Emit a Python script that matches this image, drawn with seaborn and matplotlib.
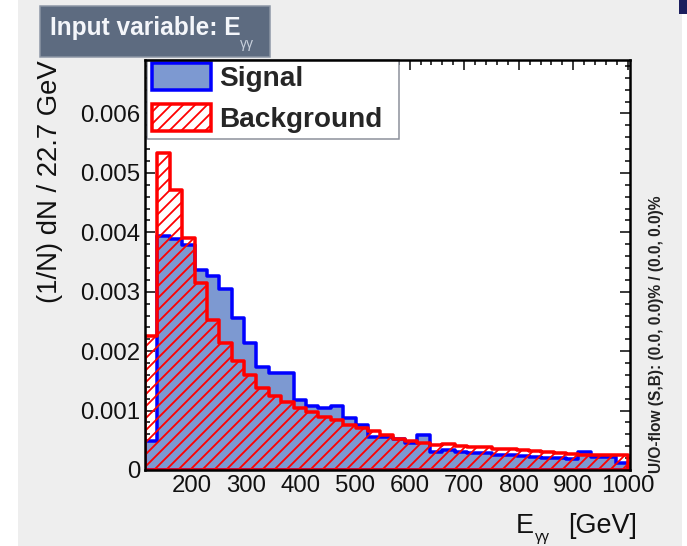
import numpy as np
import pandas as pd
import matplotlib
matplotlib.use("Agg")
import matplotlib.pyplot as plt
import seaborn as sns
from matplotlib.patches import Patch, Rectangle
from matplotlib.ticker import MultipleLocator

# ---------------- data ----------------
x_low = 115.0
bin_width = 22.7
signal = [0.00048, 0.00393, 0.00388, 0.00378, 0.00336, 0.00326, 0.00304, 0.00256,
          0.00214, 0.00174, 0.00164, 0.00164, 0.00118, 0.00108, 0.00104, 0.00108,
          0.00087, 0.00076, 0.00056, 0.00056, 0.00052, 0.00046, 0.00059, 0.00031,
          0.00034, 0.00031, 0.00029, 0.00028, 0.00026, 0.00025, 0.00024, 0.00022,
          0.00020, 0.00020, 0.00018, 0.00030, 0.00022, 0.00022, 0.00012]
background = [0.00225, 0.00534, 0.00471, 0.00391, 0.00315, 0.00253, 0.00214, 0.00183,
              0.00160, 0.00138, 0.00124, 0.00115, 0.00104, 0.00098, 0.00090, 0.00084,
              0.00076, 0.00070, 0.00065, 0.00059, 0.00052, 0.00048, 0.00045, 0.00042,
              0.00043, 0.00041, 0.00039, 0.00038, 0.00036, 0.00035, 0.00034, 0.00032,
              0.00030, 0.00029, 0.00027, 0.00026, 0.00026, 0.00025, 0.00025]
x_ticks = [200, 300, 400, 500, 600, 700, 800, 900, 1000]
y_ticks = [0, 0.001, 0.002, 0.003, 0.004, 0.005, 0.006]
y_tick_labels = ["0", "0.001", "0.002", "0.003", "0.004", "0.005", "0.006"]
legend_labels = ["Signal", "Background"]

n_bins = len(signal)
edges = [x_low + bin_width * i for i in range(n_bins + 1)]
centers = [0.5 * (edges[i] + edges[i + 1]) for i in range(n_bins)]
df = pd.DataFrame({"E": centers, "signal": signal, "background": background})

# ---------------- style ----------------
sns.set_theme(style="white")
plt.rcParams['font.family'] = ['Liberation Sans', 'DejaVu Sans']
plt.rcParams['hatch.linewidth'] = 1.8
plt.rcParams['hatch.color'] = 'red'

DPI = 72
W, H = 687, 546
fig = plt.figure(figsize=(W / DPI, H / DPI), dpi=DPI, facecolor='white')

# grey canvas
fig.add_artist(Rectangle((18 / W, 0), (682 - 18) / W, 1, transform=fig.transFigure,
                         facecolor='#eeeeee', edgecolor='none', zorder=-10))
fig.add_artist(Rectangle((679 / W, 1 - 14 / H), 8 / W, 14 / H, transform=fig.transFigure,
                         facecolor='#1c1f5e', edgecolor='none', zorder=-9))

L, R, T, B = 145, 630, 60, 470
ax = fig.add_axes([L / W, 1 - B / H, (R - L) / W, (B - T) / H])
ax.set_facecolor('white')

sig_fill = '#7d99d1'
sns.histplot(data=df, x="E", weights="signal", bins=edges, element="step", fill=True,
             color='blue', facecolor=sig_fill, edgecolor='blue', linewidth=3.5, alpha=1, ax=ax)
sns.histplot(data=df, x="E", weights="background", bins=edges, element="step", fill=True,
             color='red', facecolor=(1, 1, 1, 0), edgecolor='red', hatch='//', linewidth=3.5,
             alpha=1, ax=ax)

ax.set_xlim(115, 1004)
ax.set_ylim(0, 0.0069)
ax.set_xticks(x_ticks)
ax.set_xticklabels([str(t) for t in x_ticks])
ax.set_yticks(y_ticks)
ax.set_yticklabels(y_tick_labels)
ax.xaxis.set_minor_locator(MultipleLocator(20))
ax.yaxis.set_minor_locator(MultipleLocator(0.0002))
ax.tick_params(which='both', direction='in', top=True, right=True, bottom=True, left=True,
               color='black', width=1.5, labelsize=24, labelcolor='#111111')
ax.tick_params(which='major', length=10, pad=5)
ax.tick_params(which='minor', length=5)
ax.set_xlabel("")
ax.set_ylabel("")
for s in ax.spines.values():
    s.set_linewidth(2.5)
    s.set_color('black')
    s.set_visible(True)

# legend frame drawn as a fixed box, legend entries on top of it
ax.add_patch(Rectangle((147 / W, 1 - 139 / H), (399 - 147) / W, (139 - 60) / H,
                       transform=fig.transFigure, facecolor='white', edgecolor='#8a8f99',
                       linewidth=1.5, zorder=2.1, clip_on=False))
handles = [Patch(facecolor=sig_fill, edgecolor='blue', linewidth=3.5, label=legend_labels[0]),
           Patch(facecolor='white', edgecolor='red', hatch='//', linewidth=3.5, label=legend_labels[1])]
leg = ax.legend(handles=handles, loc='upper left', bbox_to_anchor=(149 / W, 1 - 60 / H),
                bbox_transform=fig.transFigure, prop={'weight': 'bold', 'size': 28},
                frameon=False, borderpad=0.12, handlelength=2.1, handleheight=1.1,
                handletextpad=0.3, labelspacing=0.42, borderaxespad=0)
leg.set_zorder(2.2)

# title box
fig.add_artist(Rectangle((40 / W, 1 - 57 / H), 230 / W, 51 / H, transform=fig.transFigure,
                         facecolor='#5d6b80', edgecolor='#8c96a5', linewidth=1.5, zorder=5))
fig.text(50 / W, 1 - 35 / H, "Input variable: E", color='#f4f6fa', fontsize=24.5,
         fontweight='bold', ha='left', va='baseline', zorder=6)
fig.text(240 / W, 1 - 48 / H, "γγ", color='#c8d0dc', fontsize=14, ha='left',
         va='baseline', zorder=6)

# y label
fig.text(50 / W, 1 - 60 / H, "(1/N) dN / 22.7 GeV", rotation=90, ha='center', va='top',
         fontsize=27.5, color='#111111')

# x label
fig.text(637 / W, 1 - 533 / H, "[GeV]", ha='right', va='baseline', fontsize=27, color='#111111')
fig.text(516 / W, 1 - 533 / H, "E", ha='left', va='baseline', fontsize=27, color='#111111')
fig.text(535 / W, 1 - 541 / H, "γγ", ha='left', va='baseline', fontsize=15, color='#111111')

# overflow text
fig.text(657 / W, 1 - 473 / H, "U/O-flow (S,B): (0.0, 0.0)% / (0.0, 0.0)%", rotation=90,
         ha='center', va='bottom', fontsize=15.5, fontweight='bold', color='#222222')

fig.savefig("out.png", dpi=DPI, facecolor=fig.get_facecolor())
